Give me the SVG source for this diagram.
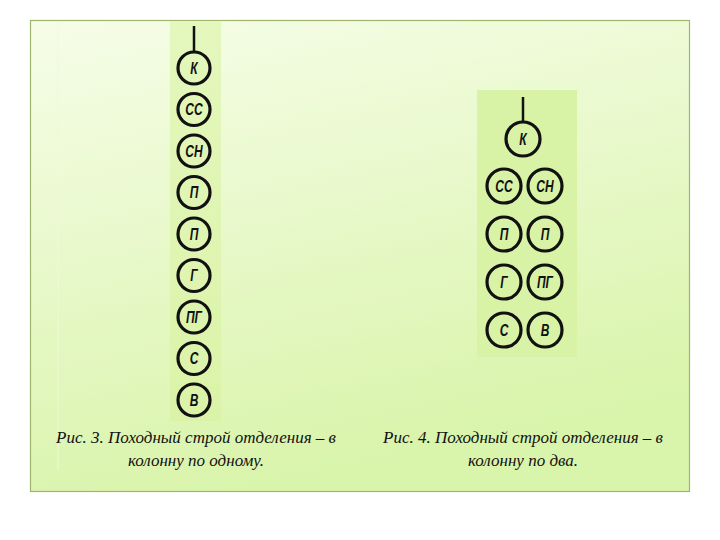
<svg xmlns="http://www.w3.org/2000/svg" width="720" height="540" viewBox="0 0 720 540">
<defs>
<linearGradient id="bg" x1="0" y1="0" x2="0.3" y2="1">
<stop offset="0" stop-color="#f6fde8"/>
<stop offset="1" stop-color="#d9f4ab"/>
</linearGradient>
<linearGradient id="strip" x1="0" y1="0" x2="0" y2="1">
<stop offset="0" stop-color="#e4f7bd"/>
<stop offset="1" stop-color="#dbf3a8"/>
</linearGradient>
</defs>
<style>
.n circle{fill:none;stroke:#111;stroke-width:3.2}
.n text{font-family:"Liberation Sans","DejaVu Sans",sans-serif;font-weight:bold;font-style:italic;font-size:16px;fill:#111;text-anchor:middle;dominant-baseline:central}
.cap{font-family:"Liberation Serif","DejaVu Serif",serif;font-style:italic;font-size:17px;fill:#111;text-anchor:middle}
.ln{stroke:#111;stroke-width:2.5}
</style>
<rect width="720" height="540" fill="#ffffff"/>
<rect x="30.5" y="20.5" width="659" height="471" fill="url(#bg)" stroke="#9fb56e" stroke-width="1.2"/>
<line x1="58" y1="22" x2="58" y2="470" stroke="#f0fadc" stroke-width="1.5" opacity="0.6"/>
<rect x="170" y="21" width="51" height="400" fill="url(#strip)"/>
<rect x="477" y="90" width="100" height="267" fill="#d8f2a6"/>
<g id="connectors">
<line class="ln" x1="194" y1="26" x2="194" y2="51"/>
<line class="ln" x1="523" y1="97" x2="523" y2="122"/>
</g>
<g id="col1">
<g id="c1_k" class="n"><circle cx="194" cy="68" r="16"/><text x="194" y="68" transform="matrix(0.75 0 0 1 48.5 0)">К</text></g>
<g id="c1_ss" class="n"><circle cx="194" cy="109.5" r="16"/><text x="194" y="109.5" transform="matrix(0.75 0 0 1 48.5 0)">СС</text></g>
<g id="c1_sn" class="n"><circle cx="194" cy="151" r="16"/><text x="194" y="151" transform="matrix(0.75 0 0 1 48.5 0)">СН</text></g>
<g id="c1_p1" class="n"><circle cx="194" cy="192.5" r="16"/><text x="194" y="192.5" transform="matrix(0.75 0 0 1 48.5 0)">П</text></g>
<g id="c1_p2" class="n"><circle cx="194" cy="234" r="16"/><text x="194" y="234" transform="matrix(0.75 0 0 1 48.5 0)">П</text></g>
<g id="c1_g" class="n"><circle cx="194" cy="275.5" r="16"/><text x="194" y="275.5" transform="matrix(0.75 0 0 1 48.5 0)">Г</text></g>
<g id="c1_pg" class="n"><circle cx="194" cy="317" r="16"/><text x="194" y="317" transform="matrix(0.75 0 0 1 48.5 0)">ПГ</text></g>
<g id="c1_s" class="n"><circle cx="194" cy="358.5" r="16"/><text x="194" y="358.5" transform="matrix(0.75 0 0 1 48.5 0)">С</text></g>
<g id="c1_v" class="n"><circle cx="194" cy="400" r="16"/><text x="194" y="400" transform="matrix(0.75 0 0 1 48.5 0)">В</text></g>
</g>
<g id="col2">
<g id="c2_k" class="n"><circle cx="523" cy="139" r="17"/><text x="523" y="139" transform="matrix(0.75 0 0 1 130.75 0)">К</text></g>
<g id="c2_ss" class="n"><circle cx="504" cy="186" r="17"/><text x="504" y="186" transform="matrix(0.75 0 0 1 126 0)">СС</text></g>
<g id="c2_sn" class="n"><circle cx="545" cy="186" r="17"/><text x="545" y="186" transform="matrix(0.75 0 0 1 136.25 0)">СН</text></g>
<g id="c2_p1" class="n"><circle cx="504" cy="234" r="17"/><text x="504" y="234" transform="matrix(0.75 0 0 1 126 0)">П</text></g>
<g id="c2_p2" class="n"><circle cx="545" cy="234" r="17"/><text x="545" y="234" transform="matrix(0.75 0 0 1 136.25 0)">П</text></g>
<g id="c2_g" class="n"><circle cx="504" cy="282" r="17"/><text x="504" y="282" transform="matrix(0.75 0 0 1 126 0)">Г</text></g>
<g id="c2_pg" class="n"><circle cx="545" cy="282" r="17"/><text x="545" y="282" transform="matrix(0.75 0 0 1 136.25 0)">ПГ</text></g>
<g id="c2_s" class="n"><circle cx="504" cy="330" r="17"/><text x="504" y="330" transform="matrix(0.75 0 0 1 126 0)">С</text></g>
<g id="c2_v" class="n"><circle cx="545" cy="330" r="17"/><text x="545" y="330" transform="matrix(0.75 0 0 1 136.25 0)">В</text></g>
</g>
<text class="cap" x="196" y="443">Рис. 3. Походный строй отделения – в</text>
<text class="cap" x="196" y="466">колонну по одному.</text>
<text class="cap" x="523" y="443">Рис. 4. Походный строй отделения – в</text>
<text class="cap" x="523" y="466">колонну по два.</text>
</svg>
